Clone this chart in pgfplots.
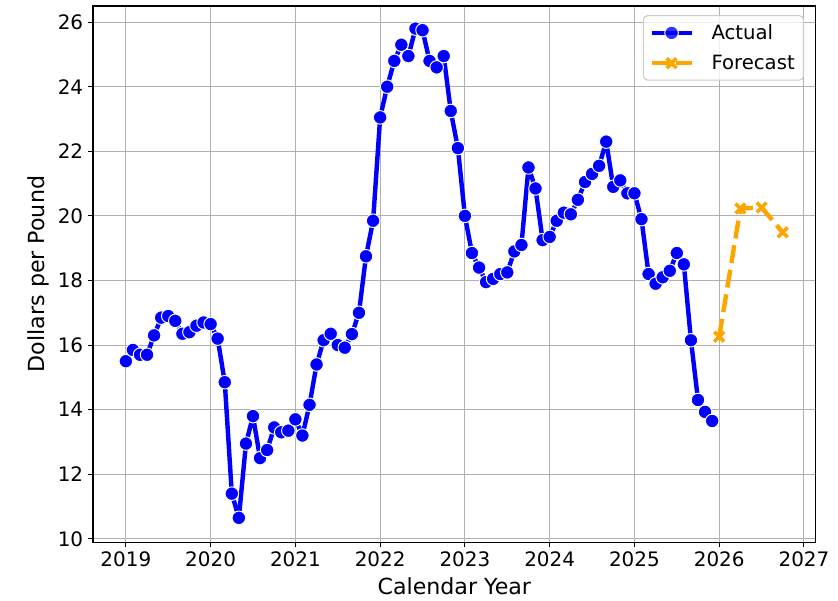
\documentclass[border=0pt]{standalone}
\usepackage{fontspec}
\setmainfont{DejaVu Sans}
\usepackage{pgfplots}
\usepackage{pgfplotstable}
\pgfplotsset{compat=1.18}

\definecolor{gridgray}{RGB}{176,176,176}
\definecolor{fcorange}{RGB}{255,165,0}

% monthly actual prices, date as fractional year
\pgfplotstableread{
date price
2019.000 15.50
2019.083 15.85
2019.167 15.70
2019.250 15.70
2019.333 16.30
2019.417 16.85
2019.500 16.90
2019.583 16.75
2019.667 16.35
2019.750 16.40
2019.833 16.60
2019.917 16.70
2020.000 16.65
2020.083 16.20
2020.167 14.85
2020.250 11.40
2020.333 10.65
2020.417 12.95
2020.500 13.80
2020.583 12.50
2020.667 12.75
2020.750 13.45
2020.833 13.30
2020.917 13.35
2021.000 13.70
2021.083 13.20
2021.167 14.15
2021.250 15.40
2021.333 16.15
2021.417 16.35
2021.500 16.00
2021.583 15.92
2021.667 16.34
2021.750 17.00
2021.833 18.75
2021.917 19.85
2022.000 23.05
2022.083 24.00
2022.167 24.80
2022.250 25.30
2022.333 24.95
2022.417 25.80
2022.500 25.75
2022.583 24.80
2022.667 24.60
2022.750 24.95
2022.833 23.25
2022.917 22.10
2023.000 20.00
2023.083 18.85
2023.167 18.40
2023.250 17.95
2023.333 18.05
2023.417 18.20
2023.500 18.25
2023.583 18.90
2023.667 19.10
2023.750 21.50
2023.833 20.85
2023.917 19.25
2024.000 19.35
2024.083 19.85
2024.167 20.10
2024.250 20.05
2024.333 20.50
2024.417 21.05
2024.500 21.30
2024.583 21.55
2024.667 22.30
2024.750 20.90
2024.833 21.10
2024.917 20.70
2025.000 20.70
2025.083 19.90
2025.167 18.20
2025.250 17.90
2025.333 18.10
2025.417 18.30
2025.500 18.85
2025.583 18.50
2025.667 16.15
2025.750 14.30
2025.833 13.93
2025.917 13.65
}\actual

\pgfplotstableread{
date price
2026.00 16.26
2026.25 20.23
2026.50 20.26
2026.75 19.49
}\forecast

\begin{document}
\begin{tikzpicture}
\begin{axis}[
    name=main, at={(0,0)}, anchor=south west,
    scale only axis, width=7.225in, height=5.36in,
    xmin=2018.6125, xmax=2027.1375,
    ymin=9.9, ymax=26.5,
    xtick={2019,2020,...,2027},
    ytick={10,12,...,26},
    grid=major,
    major grid style={draw=gridgray, line width=0.8pt},
    axis line style={line width=0.8pt, draw=black},
    tick align=outside, tick pos=left,
    major tick length=0.05in,
    tick style={black, line width=0.8pt},
    ticklabel style={font=\fontsize{14.4}{17}\selectfont},
    /pgf/number format/assume math mode=true,
    /pgf/number format/1000 sep={},
    xlabel={Calendar Year},
    ylabel={Dollars per Pound},
    label style={font=\fontsize{16}{19}\selectfont},
    xlabel style={at={(axis description cs:0.5,-0.082)}, anchor=center},
    ylabel style={at={(axis description cs:-0.076,0.5)}, anchor=center},
    legend cell align=left,
    legend image code/.code={\draw[mark repeat=2, mark phase=2, #1] plot coordinates {(0in,0in) (0.2in,0in) (0.4in,0in)};},
    legend style={at={(axis description cs:0.984,0.983)}, anchor=north east,
        draw=black!20, line width=0.8pt, rounded corners=3pt,
        fill=white, fill opacity=0.8, text opacity=1,
        font=\fontsize{14.2}{17}\selectfont,
        inner xsep=0.06in, inner ysep=0.06in,
        row sep=0.08in, column sep=0.15in},
]
\addplot[blue, line width=3.2pt, line join=round, mark=*, mark size=4.9pt,
    mark options={fill=blue, draw=white, line width=0.7pt, solid}]
    table[x=date, y=price] {\actual};
\addlegendentry{Actual}
\addplot[fcorange, line width=3.2pt, line join=round, dash pattern=on 13pt off 5pt,
    mark=x, mark size=5pt, mark options={solid, line width=2.6pt}]
    table[x=date, y=price] {\forecast};
\addlegendentry{Forecast}
\end{axis}
\pgfresetboundingbox
\path[use as bounding box] ([xshift=-0.93in, yshift=-0.58in]main.south west)
    rectangle ([xshift=0.224in, yshift=0.06in]main.north east);
\end{tikzpicture}
\end{document}
